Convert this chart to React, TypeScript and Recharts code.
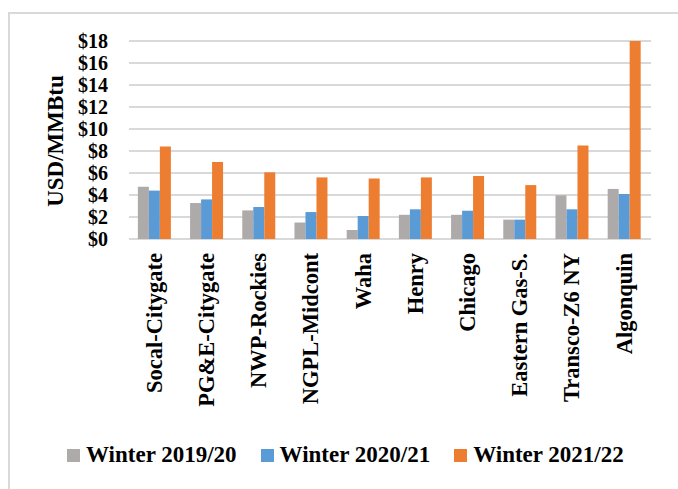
import React from "react";
import { Bar, BarChart, CartesianGrid, Legend, XAxis, YAxis } from "recharts";

const HUBS = [
  "Socal-Citygate",
  "PG&E-Citygate",
  "NWP-Rockies",
  "NGPL-Midcont",
  "Waha",
  "Henry",
  "Chicago",
  "Eastern Gas-S.",
  "Transco-Z6 NY",
  "Algonquin",
];
const WINTER_2019 = [4.75, 3.27, 2.6, 1.5, 0.82, 2.2, 2.2, 1.76, 3.97, 4.55];
const WINTER_2020 = [4.4, 3.6, 2.9, 2.45, 2.09, 2.7, 2.57, 1.76, 2.7, 4.09];
const WINTER_2021 = [8.4, 7.0, 6.06, 5.6, 5.5, 5.6, 5.73, 4.9, 8.5, 18.0];
const Y_TICKS = [0, 2, 4, 6, 8, 10, 12, 14, 16, 18];

const SERIES = [
  { key: "w2019", name: "Winter 2019/20", color: "#aeaaaa" },
  { key: "w2020", name: "Winter 2020/21", color: "#5b9bd5" },
  { key: "w2021", name: "Winter 2021/22", color: "#ed7d31" },
];

const data = HUBS.map((hub, i) => ({
  hub,
  w2019: WINTER_2019[i],
  w2020: WINTER_2020[i],
  w2021: WINTER_2021[i],
}));

const FONT = '"Liberation Serif", "Times New Roman", serif';

function HubTick({ x, y, payload }: any) {
  return (
    <text
      x={x}
      y={y}
      transform={`rotate(-90 ${x} ${y})`}
      textAnchor="end"
      dy="0.3em"
      fontFamily={FONT}
      fontWeight="bold"
      fontSize={22.5}
      fill="#000"
    >
      {payload.value}
    </text>
  );
}

function LegendItems() {
  return (
    <div style={{ display: "flex", alignItems: "center", fontFamily: FONT, fontWeight: "bold", fontSize: 23, lineHeight: "26px", color: "#000" }}>
      {SERIES.map((s) => (
        <div key={s.key} style={{ display: "flex", alignItems: "center", marginRight: 24 }}>
          <span style={{ display: "inline-block", width: 13, height: 13, background: s.color, marginRight: 6 }} />
          <span>{s.name}</span>
        </div>
      ))}
    </div>
  );
}

export default function App() {
  return (
    <div style={{ position: "absolute", left: 0, top: 0, width: 678, height: 489, background: "#fff", overflow: "hidden" }}>
      <div
        style={{
          position: "absolute",
          left: 8,
          top: 12,
          width: 720,
          height: 520,
          borderTop: "2px solid #d9d9d9",
          borderLeft: "2px solid #d9d9d9",
        }}
      />
      <BarChart
        width={678}
        height={489}
        data={data}
        margin={{ top: 41, right: 27, left: 59, bottom: 130 }}
        barCategoryGap="17%"
        barGap={0}
      >
        <CartesianGrid vertical={false} stroke="#d9d9d9" strokeWidth={2} />
        <XAxis
          dataKey="hub"
          interval={0}
          height={120}
          axisLine={false}
          tickLine={false}
          tickSize={0}
          tickMargin={0}
          tick={(props: any) => <HubTick {...props} y={props.y + 14} />}
        />
        <YAxis
          width={70}
          domain={[0, 18]}
          ticks={Y_TICKS}
          interval={0}
          axisLine={false}
          tickLine={false}
          tickSize={0}
          tickMargin={21}
          tickFormatter={(v: number) => `$${v}`}
          tick={{ fontFamily: FONT, fontWeight: "bold", fontSize: 20, fill: "#000" }}
          label={{
            content: () => (
              <text
                x={55}
                y={141}
                transform="rotate(-90 55 141)"
                textAnchor="middle"
                dominantBaseline="central"
                fontFamily={FONT}
                fontWeight="bold"
                fontSize={23}
                fill="#000"
              >
                USD/MMBtu
              </text>
            ),
          }}
        />
        <Legend
          layout="horizontal"
          verticalAlign="middle"
          align="center"
          wrapperStyle={{ position: "absolute", left: 67, top: 442, width: 600 }}
          content={() => <LegendItems />}
        />
        {SERIES.map((s) => (
          <Bar key={s.key} dataKey={s.key} name={s.name} fill={s.color} isAnimationActive={false} />
        ))}
      </BarChart>
    </div>
  );
}
